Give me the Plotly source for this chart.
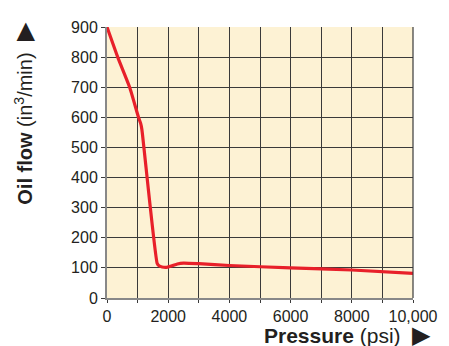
import plotly.graph_objects as go

pressure = [0, 350, 740, 1030, 1100, 1140, 1640, 1700, 1800, 1950, 2100, 2300, 2500, 3000, 4000, 6000, 8000, 10000]
oil_flow = [900, 800, 700, 600, 580, 560, 115, 107, 103, 102, 106, 113, 116, 114, 108, 100, 93, 82]

x_tickvals = [0, 2000, 4000, 6000, 8000, 10000]
x_ticktext = ["0", "2000", "4000", "6000", "8000", "10,000"]
y_tickvals = [0, 100, 200, 300, 400, 500, 600, 700, 800, 900]

fig = go.Figure()
fig.add_trace(go.Scatter(x=pressure, y=oil_flow, mode="lines",
                         line=dict(color="#e8202a", width=3.2, shape="spline", smoothing=0.5),
                         hoverinfo="skip"))

fam = "Liberation Sans, Arial, Helvetica, sans-serif"
tfont = dict(family=fam, size=16, color="#231f20")
ytitlefont = dict(family=fam, size=20, color="#231f20")
xtitlefont = dict(family=fam, size=21, color="#231f20")

# page body has an 8px default margin; figure is sized to compensate
fig.update_layout(
    width=441, height=338,
    margin=dict(l=99, r=31, t=11, b=48),
    paper_bgcolor="white",
    plot_bgcolor="#fdf2d4",
    showlegend=False,
    font=tfont,
    xaxis=dict(range=[0, 10000], tickvals=x_tickvals, ticktext=x_ticktext,
               showgrid=True, gridcolor="#3a3a3a", gridwidth=1,
               minor=dict(dtick=1000, showgrid=True, gridcolor="#3a3a3a", gridwidth=1,
                          ticks="outside", ticklen=3, tickcolor="#3a3a3a"),
               ticks="outside", ticklen=3, tickcolor="#3a3a3a",
               showline=True, linecolor="#888888", linewidth=1.5, mirror=False,
               zeroline=False, tickfont=tfont, fixedrange=True),
    yaxis=dict(range=[0, 900], tickvals=y_tickvals,
               showgrid=True, gridcolor="#3a3a3a", gridwidth=1,
               ticks="outside", ticklen=4, tickcolor="#3a3a3a",
               showline=True, linecolor="#888888", linewidth=2,
               zeroline=False, tickfont=tfont, fixedrange=True),
    shapes=[dict(type="line", xref="paper", yref="paper", x0=1, x1=1, y0=0, y1=1,
                 line=dict(color="#3a3a3a", width=1.2))],
    annotations=[
        dict(text="<b>Oil flow</b> (in<sup>3</sup>/min)  <span style='font-size:24px'>▶</span>",
             textangle=-90,
             xref="paper", yref="paper", x=-0.273, y=1.025,
             xanchor="center", yanchor="top", showarrow=False,
             font=ytitlefont),
        dict(text="<b>Pressure</b> (psi)  <span style='font-size:24px'>▶</span>",
             xref="paper", yref="paper", x=1.065, y=-0.136,
             xanchor="right", yanchor="middle", showarrow=False,
             font=xtitlefont),
    ],
)

fig.write_html("out.html")
